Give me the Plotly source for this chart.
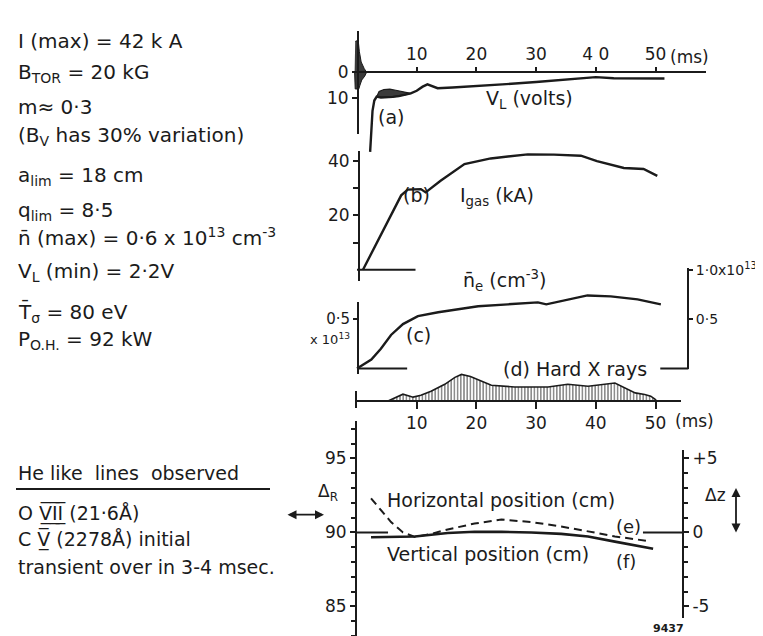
import plotly.graph_objects as go

W, H = 763, 636
X0, S = 349.0, 5.97          # pixel of t=0 and pixels per ms
INK = "#1b1b1b"
FONT = "DejaVu Sans"

# ---------------- data ----------------
# (a) loop voltage V_L (volts), plotted downward
vl_t = [2.2, 2.4, 2.6, 2.9, 3.3, 4.0, 5.0, 6.0, 7.0, 8.0, 9.0, 10.0, 11.0, 11.8, 12.5, 13.5,
        16.0, 20.0, 25.0, 30.0, 35.0, 40.0, 43.0, 47.0, 51.5]
vl_v = [31.0, 22.0, 15.0, 11.0, 9.5, 9.8, 9.8, 9.6, 9.3, 8.8, 8.2, 7.2, 5.6, 4.7, 5.2, 6.2,
        5.9, 5.4, 4.6, 3.8, 2.9, 1.9, 2.3, 2.3, 2.4]
vl_band_t = [3.3, 3.7, 4.5, 5.5, 6.5, 7.5, 8.5, 9.0]
vl_band_top = [9.5, 7.5, 6.7, 6.6, 7.0, 7.4, 7.8, 8.2]
vl_spike_t = [-0.3, 0.2, 0.4, 0.7, 1.2, 1.6, 1.3, 0.8, 0.5, 0.3, -0.3, -0.4]
vl_spike_v = [-12.0, -12.5, -8.0, -4.0, -1.5, 0.0, 1.5, 3.0, 5.0, 6.5, 6.5, 0.0]

# (b) gas current I_gas (kA)
ig_t = [1.0, 4.0, 7.4, 8.5, 10.7, 11.5, 14.0, 18.0, 22.4, 28.6, 33.0, 37.5, 40.2, 44.7, 48.0, 50.3]
ig_v = [0.0, 13.0, 27.4, 29.5, 29.7, 28.5, 32.8, 38.9, 41.0, 42.5, 42.4, 42.0, 40.0, 37.5, 37.1, 34.6]

# (c) mean density n_e (10^13 cm^-3)
ne_t = [0.0, 2.4, 4.0, 5.7, 7.7, 10.2, 13.6, 20.3, 25.3, 30.3, 31.7, 34.7, 38.6, 42.5, 47.0, 50.9]
ne_v = [0.0, 0.09, 0.20, 0.34, 0.45, 0.53, 0.57, 0.63, 0.65, 0.67, 0.65, 0.69, 0.74, 0.73, 0.70, 0.65]

# (d) hard X rays (arbitrary units)
xr_t = [5.2, 7.7, 9.4, 10.7, 12.4, 14.7, 16.4, 17.5, 19.0, 20.8, 22.5, 26.4, 32.0, 35.3, 38.7,
        43.2, 44.9, 46.6, 48.2, 49.2, 49.9, 50.2]
xr_v = [0.0, 7.0, 4.0, 6.0, 10.0, 17.0, 24.0, 27.0, 25.0, 20.0, 16.0, 14.3, 14.3, 17.0, 15.0,
        18.3, 13.3, 8.3, 6.7, 5.0, 2.0, 0.0]

# (e) horizontal position Delta_R (cm)
dr_t = [2.35, 4.0, 5.7, 7.7, 9.7, 12.4, 15.2, 19.7, 24.2, 29.2, 34.2, 38.7, 43.2, 49.1]
dr_v = [92.3, 91.5, 90.7, 90.0, 89.7, 89.9, 90.2, 90.6, 90.87, 90.7, 90.4, 90.07, 89.73, 89.4]

# (f) vertical position Delta_z (cm)
dz_t = [2.35, 9.7, 15.2, 19.7, 24.2, 29.2, 34.2, 38.7, 43.2, 49.6]
dz_v = [-0.33, -0.27, -0.04, 0.04, 0.04, 0.0, -0.1, -0.27, -0.62, -1.1]

time_ticks = [10, 20, 30, 40, 50]
time_top_labels = ["10", "20", "30", "4 0", "50"]
time_bot_labels = ["10", "20", "30", "40", "50"]

params = [
    "I (max) = 42 k A",
    "B<sub>TOR</sub> = 20 kG",
    "m\u2248 0\u00b73",
    "(B<sub>V</sub> has 30% variation)",
    "a<sub>lim</sub> = 18 cm",
    "q<sub>lim</sub> = 8\u00b75",
    "n\u0304 (max) = 0\u00b76 x 10<sup>13</sup> cm<sup>-3</sup>",
    "V<sub>L</sub> (min) = 2\u00b72V",
    "T\u0304<sub>\u03c3</sub> = 80 eV",
    "P<sub>O.H.</sub> = 92 kW",
]
params_y = [25, 58, 92, 122, 162, 197, 224, 259, 300, 328]

lines_obs = [
    "O V\u0332\u0305I\u0332\u0305I\u0332\u0305 (21\u00b76\u00c5)",
    "C V\u0332\u0305 (2278\u00c5) initial",
    "transient over in 3-4 msec.",
]
lines_obs_y = [503, 530, 558]


# ---------------- helpers ----------------
def fx(px):
    return px / W


def fy(py):
    return 1 - py / H


def trange(a, b):
    return [(a - X0) / S, (b - X0) / S]


base = dict(showgrid=False, zeroline=False, fixedrange=True, linecolor=INK, linewidth=2,
            tickcolor=INK, tickwidth=2, tickfont=dict(family=FONT, size=17, color=INK))


def yax(top, bot, val, visible=True, pos=None, side="left", **kw):
    d = dict(base)
    d.update(domain=[fy(bot), fy(top)], range=[val(bot), val(top)])
    if visible:
        d.update(showline=True, anchor="free", position=fx(pos), side=side, ticks="outside", ticklen=5)
    else:
        d.update(visible=False, anchor="x")
    d.update(kw)
    return d


vl_val = lambda py: (py - 57) / 2.6
ig_val = lambda py: (257 - py) / 2.75
ne_val = lambda py: (357 - py) / 100.0
xr_val = lambda py: 390 - py
dr_val = lambda py: 90 + (523 - py) / 15.0
dz_val = lambda py: (523 - py) / 15.0

fig = go.Figure()

layout = dict(
    width=W, height=H, autosize=False, margin=dict(l=0, r=0, t=0, b=0),
    paper_bgcolor="white", plot_bgcolor="rgba(0,0,0,0)", showlegend=False,
    font=dict(family=FONT, size=16, color=INK),
    xaxis=dict(base, domain=[0, 1], range=trange(0, W), visible=False, anchor="y"),
    xaxis2=dict(base, domain=[fx(350), fx(698)], range=trange(350, 698), side="top", anchor="free",
                position=fy(57), showline=True, ticks="outside", ticklen=4,
                tickvals=time_ticks, ticktext=time_top_labels),
    xaxis3=dict(base, domain=[fx(348), fx(673)], range=trange(348, 673), side="bottom", anchor="free",
                position=fy(390), showline=True, ticks="outside", ticklen=7,
                tickvals=time_ticks, ticktext=time_bot_labels),
    yaxis=yax(10, 150, vl_val, visible=False),
    yaxis2=yax(15, 119, vl_val, pos=350, tickvals=[0, 10], ticktext=["0", "10"]),
    yaxis3=yax(137, 268, ig_val, pos=351, tickvals=[10, 20, 30, 40], ticktext=["", "20", "", "40"]),
    yaxis4=yax(270, 365, ne_val, visible=False),
    yaxis5=yax(290, 363, ne_val, pos=350, tickvals=[0.5], ticktext=["0\u00b75"], ticklen=4,
               tickfont=dict(family=FONT, size=15, color=INK)),
    yaxis6=yax(255, 357, ne_val, pos=680, side="right", tickvals=[0.5, 1.0], ticklen=4,
               ticktext=["0\u00b75", "1\u00b70x10<sup>13</sup>"],
               tickfont=dict(family=FONT, size=14, color=INK)),
    yaxis7=yax(355, 392, xr_val, visible=False),
    yaxis8=yax(380, 397, xr_val, pos=348, ticks="", showticklabels=False),
    yaxis9=yax(410, 636, dr_val, pos=348, tickvals=[85, 90, 95],
               minor=dict(dtick=1, tick0=0, ticks="outside", ticklen=4, tickcolor=INK, tickwidth=2)),
    yaxis10=yax(440, 610, dz_val, pos=675, side="right", tickvals=[-5, 0, 5], ticktext=["-5", "0", "+5"],
                minor=dict(dtick=1, tick0=0, ticks="outside", ticklen=4, tickcolor=INK, tickwidth=2)),
)


def line(x, y, yaxis, xaxis="x", width=2.4, dash=None):
    fig.add_trace(go.Scatter(x=x, y=y, xaxis=xaxis, yaxis=yaxis, mode="lines",
                             line=dict(color=INK, width=width, dash=dash), hoverinfo="skip"))


def dummy(xaxis, yaxis):
    fig.add_trace(go.Scatter(x=[None], y=[None], xaxis=xaxis, yaxis=yaxis, mode="lines", hoverinfo="skip"))


for xa, ya in [("x2", "y2"), ("x", "y5"), ("x", "y6"), ("x3", "y8"), ("x", "y3"), ("x", "y9"), ("x", "y10")]:
    dummy(xa, ya)

# (a) V_L
fig.add_trace(go.Scatter(x=vl_spike_t, y=vl_spike_v, xaxis="x", yaxis="y", mode="lines", fill="toself",
                         fillcolor="#3a3a3a", line=dict(color=INK, width=1), hoverinfo="skip"))
band_x = vl_band_t + [vl_t[i] for i in range(len(vl_t)) if 3.3 <= vl_t[i] <= 9.0][::-1]
band_y = vl_band_top + [vl_v[i] for i in range(len(vl_t)) if 3.3 <= vl_t[i] <= 9.0][::-1]
fig.add_trace(go.Scatter(x=band_x, y=band_y, xaxis="x", yaxis="y", mode="lines", fill="toself",
                         fillcolor="#3a3a3a", line=dict(color=INK, width=1.2), hoverinfo="skip"))
line(vl_t, vl_v, "y")

# (b) I_gas
line([0, 9.8], [0, 0], "y3", width=2)
line(ig_t, ig_v, "y3")

# (c) n_e
line([0, 8.4], [0, 0], "y4", width=2)
line([50.8, 55.5], [0, 0], "y4", width=2)
line(ne_t, ne_v, "y4")

# (d) hard X rays
fig.add_trace(go.Scatter(x=xr_t, y=xr_v, xaxis="x", yaxis="y7", mode="lines", fill="tozeroy",
                         fillpattern=dict(shape="|", size=3.2, solidity=0.5, fgcolor=INK, bgcolor="white"),
                         line=dict(color=INK, width=1.6), hoverinfo="skip"))

# (e), (f) positions
line([-0.2, 5.2], [90, 90], "y9", width=2)
line([47.9, 54.6], [90, 90], "y9", width=2)
line(dr_t, dr_v, "y9", width=2, dash="8px,5px")
line(dz_t, dz_v, "y10", width=2.6)

# ---------------- text ----------------
ann = []


def txt(text, x, y, xanchor="center", size=16, **kw):
    ann.append(dict(text=text, x=fx(x), y=fy(y), xref="paper", yref="paper", showarrow=False,
                    xanchor=xanchor, yanchor="middle", font=dict(family=FONT, size=size, color=INK), **kw))


for t, yy in zip(params, params_y):
    txt(t, 8, yy, xanchor="left", size=20)
txt("He like  lines  observed", 8, 463, xanchor="left", size=19)
for t, yy in zip(lines_obs, lines_obs_y):
    txt(t, 8, yy, xanchor="left", size=19)

txt("(ms)", 681, 42, size=17)
txt("V<sub>L</sub> (volts)", 521, 85, size=19)
txt("(a)", 383, 102, size=19)
txt("(b)", 408, 181, size=19)
txt("I<sub>gas</sub> (kA)", 450, 183, xanchor="left", size=19)
txt("n\u0304<sub>e</sub> (cm<sup>-3</sup>)", 453, 268, xanchor="left", size=19)
txt("(c)", 410, 323, size=19)
txt("x 10<sup>13</sup>", 344, 327, xanchor="right", size=13)
txt("(d) Hard X rays", 493, 358, xanchor="left", size=19)
txt("(ms)", 686, 410, size=17)
txt("Horizontal position (cm)", 377, 490, xanchor="left", size=19)
txt("Vertical position (cm)", 377, 545, xanchor="left", size=19)
txt("(e)", 620, 517, size=18)
txt("(f)", 618, 552, size=18)
txt("\u0394<sub>R</sub>", 320, 483, size=17)
txt("\u0394z", 707, 485, size=17)
txt("<b>9437</b>", 660, 620, size=11)

ann.append(dict(x=fx(316), y=fy(505), ax=-38, ay=0, xref="paper", yref="paper", text="",
                showarrow=True, arrowhead=2, arrowside="end+start", arrowwidth=1.8, arrowcolor=INK))
ann.append(dict(x=fx(728), y=fy(523), ax=0, ay=-46, xref="paper", yref="paper", text="",
                showarrow=True, arrowhead=2, arrowside="end+start", arrowwidth=1.8, arrowcolor=INK))

layout["annotations"] = ann
layout["shapes"] = [dict(type="line", xref="paper", yref="paper", x0=fx(8), x1=fx(262),
                         y0=fy(479), y1=fy(479), line=dict(color=INK, width=2))]

fig.update_layout(**layout)
fig.write_html("out.html")
